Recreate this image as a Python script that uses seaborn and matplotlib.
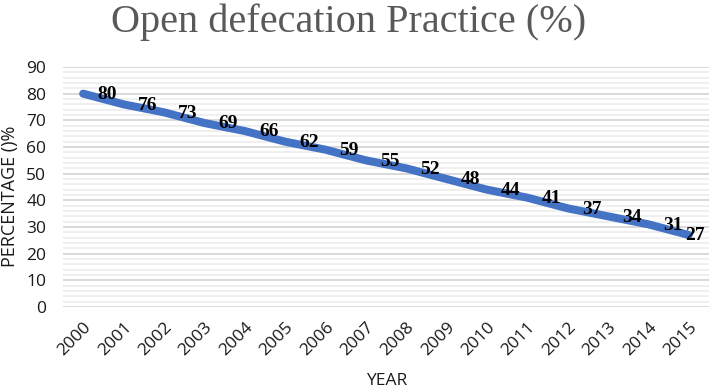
import matplotlib
matplotlib.use("Agg")
import matplotlib.pyplot as plt
import seaborn as sns
import pandas as pd
from matplotlib.ticker import MultipleLocator

years = ["2000", "2001", "2002", "2003", "2004", "2005", "2006", "2007",
         "2008", "2009", "2010", "2011", "2012", "2013", "2014", "2015"]
values = [80, 76, 73, 69, 66, 62, 59, 55, 52, 48, 44, 41, 37, 34, 31, 27]
y_ticks = [0, 10, 20, 30, 40, 50, 60, 70, 80, 90]

title = "Open defecation Practice (%)"
xlabel = "YEAR"
ylabel = "PERCENTAGE ()%"

sns.set_theme(style="white")
plt.rcParams['font.family'] = ['Open Sans', 'DejaVu Sans']

df = pd.DataFrame({"year": years, "value": values})
df["pos"] = range(len(df))

fig = plt.figure(figsize=(7.09, 3.91), dpi=100)
ax = fig.add_axes([63 / 709, 1 - 307 / 391, 646 / 709, 240 / 391])

sns.lineplot(data=df, x="pos", y="value", ax=ax, color="#4472C4",
             linewidth=5.8, solid_capstyle="round", zorder=3)

tick_color = "#1a1a1a"
ax.set_xlim(-0.5, len(years) - 0.5)
ax.set_ylim(0, 90)
ax.set_xticks(df["pos"])
ax.set_xticklabels(years, rotation=45, ha="right", rotation_mode="anchor",
                   fontsize=12.5, color=tick_color)
ax.set_yticks(y_ticks)
ax.set_yticklabels([str(v) for v in y_ticks], fontsize=12.5, color=tick_color)
ax.yaxis.set_minor_locator(MultipleLocator(2))
ax.tick_params(axis="both", which="both", length=0)
ax.tick_params(axis="x", pad=9)
ax.tick_params(axis="y", pad=12)

ax.grid(axis="y", which="major", color="#d9d9d9", linewidth=1.4, zorder=0)
ax.grid(axis="y", which="minor", color="#efefef", linewidth=1.4, zorder=0)
ax.grid(axis="x", visible=False)
for s in ax.spines.values():
    s.set_visible(False)

for i, (p, v) in enumerate(zip(df["pos"], df["value"])):
    dx = 24 if i < len(values) - 1 else 6
    ax.annotate(str(v), (p, v), xytext=(dx, -1), textcoords="offset pixels",
                ha="center", va="center", fontsize=14, fontweight="bold",
                family=["Liberation Serif"], color="black", zorder=4)

ax.set_xlabel("")
ax.set_ylabel("")
fig.text(387 / 709, 1 - 381 / 391, xlabel, ha="center", va="center",
         fontsize=12.5, color=tick_color)
fig.text(10 / 709, 1 - 196 / 391, ylabel, ha="center", va="center",
         rotation=90, fontsize=13, color=tick_color)
fig.text(349 / 709, 1 - 22 / 391, title, ha="center", va="center",
         fontsize=29, color="#595959", family=["Liberation Serif"])

fig.savefig("out.png", dpi=100)
